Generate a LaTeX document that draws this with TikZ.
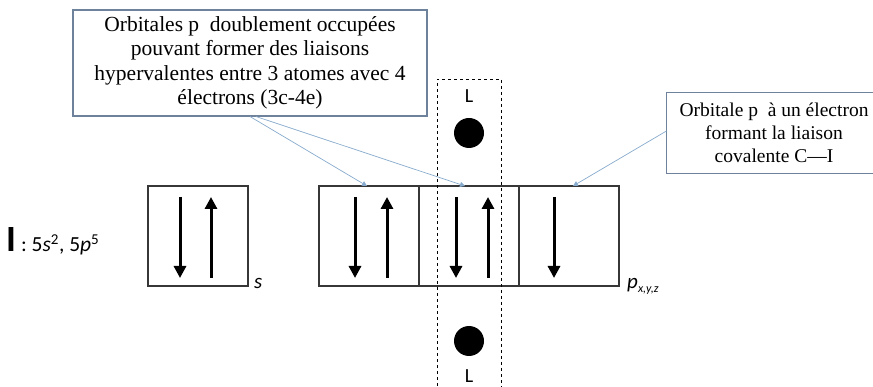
\documentclass[tikz,border=0pt]{standalone}
\usepackage{fontspec}
\setmainfont{Liberation Serif}
\newfontfamily\carl{Carlito}
\usetikzlibrary{arrows.meta}
\definecolor{callborder}{RGB}{110,130,155}
\definecolor{conn}{RGB}{135,170,205}
\definecolor{boxline}{RGB}{55,55,55}
\begin{document}
\begin{tikzpicture}[x=1pt,y=-1pt,
  orb/.style={draw=boxline,line width=1.1pt,minimum width=100pt,minimum height=100pt,inner sep=0pt},
  callout/.style={draw=callborder,line width=1.1pt,align=center,inner sep=0pt,
     font=\fontsize{21.5}{24.5}\selectfont},
  spin/.style={line width=3pt,-{Triangle[width=12pt,length=12pt]}},
  conline/.style={draw=conn,line width=0.7pt,-{Triangle[width=5pt,length=5pt]}},
  lbl/.style={font=\carl\fontsize{20}{22}\selectfont,inner sep=0pt},
  dotel/.style={circle,fill=black,minimum size=30pt,inner sep=0pt}]
\useasboundingbox (0,0) rectangle (873,387);
\clip (0,0) rectangle (873,387);

% orbital boxes
\node[orb] (s)  at (198,236) {};
\node[orb] (p1) at (369,236) {};
\node[orb] (p2) at (469,236) {};
\node[orb] (p3) at (569,236) {};

% spins
\draw[spin] (180,197) -- (180,278);
\draw[spin] (211,278) -- (211,197);
\draw[spin] (355,197) -- (355,278);
\draw[spin] (387,278) -- (387,197);
\draw[spin] (456,197) -- (456,278);
\draw[spin] (488,278) -- (488,197);
\draw[spin] (554,197) -- (554,278);

% labels
\node[anchor=base west,inner sep=0pt] (cfg) at (6,252)
  {\carl{\fontsize{37}{37}\selectfont\bfseries I}\hspace{5pt}\fontsize{21.5}{24}\selectfont: 5\textit{s}\textsuperscript{2}, 5\textit{p}\textsuperscript{5}};
\node[anchor=base west,inner sep=0pt,font=\carl\fontsize{21}{24}\selectfont] (slab) at (254,289) {\textit{s}};
\node[anchor=base west,inner sep=0pt,font=\carl\fontsize{21}{24}\selectfont] (plab) at (627,289)
  {\textit{p}\raisebox{-3.5pt}{\fontsize{12}{12}\selectfont\textit{x,y,z}}};

% ligand region
\coordinate (dtl) at (437,79);
\coordinate (dtr) at (501,79);
\coordinate (dbl) at (437,392);
\coordinate (dbr) at (501,392);
\draw[dashed,line width=0.9pt] (dbl) -- (dtl) -- (dtr) -- (dbr);
\node[lbl] (L1) at (469,96) {L};
\node[dotel] (e1) at (469,133) {};
\node[dotel] (e2) at (469,341) {};
\node[lbl] (L2) at (469,376) {L};

% callouts
\node[callout,minimum width=354pt,minimum height=106pt] (cl) at (250,63)
  {Orbitales p\ \ doublement occupées\\pouvant former des liaisons\\hypervalentes entre 3 atomes avec 4\\électrons (3c-4e)};
\node[callout,draw=none,minimum width=214pt,minimum height=80pt,font=\fontsize{19.5}{23}\selectfont] (cr) at (774,133)
  {Orbitale p\ \ à un électron\\formant la liaison\\covalente C—I};
\draw[callborder,line width=1.1pt] ([xshift=40pt]cr.north east) -- (cr.north west) -- (cr.south west) -- ([xshift=40pt]cr.south east);

% connectors
\coordinate (t1) at (367,186);
\coordinate (t2) at (465,186);
\coordinate (t3) at (573,186);
\draw[conline] ([xshift=0pt]cl.south) -- (t1);
\draw[conline] ([xshift=6pt]cl.south) -- (t2);
\draw[conline] ([yshift=2pt]cr.west) -- (t3);
\end{tikzpicture}
\end{document}
